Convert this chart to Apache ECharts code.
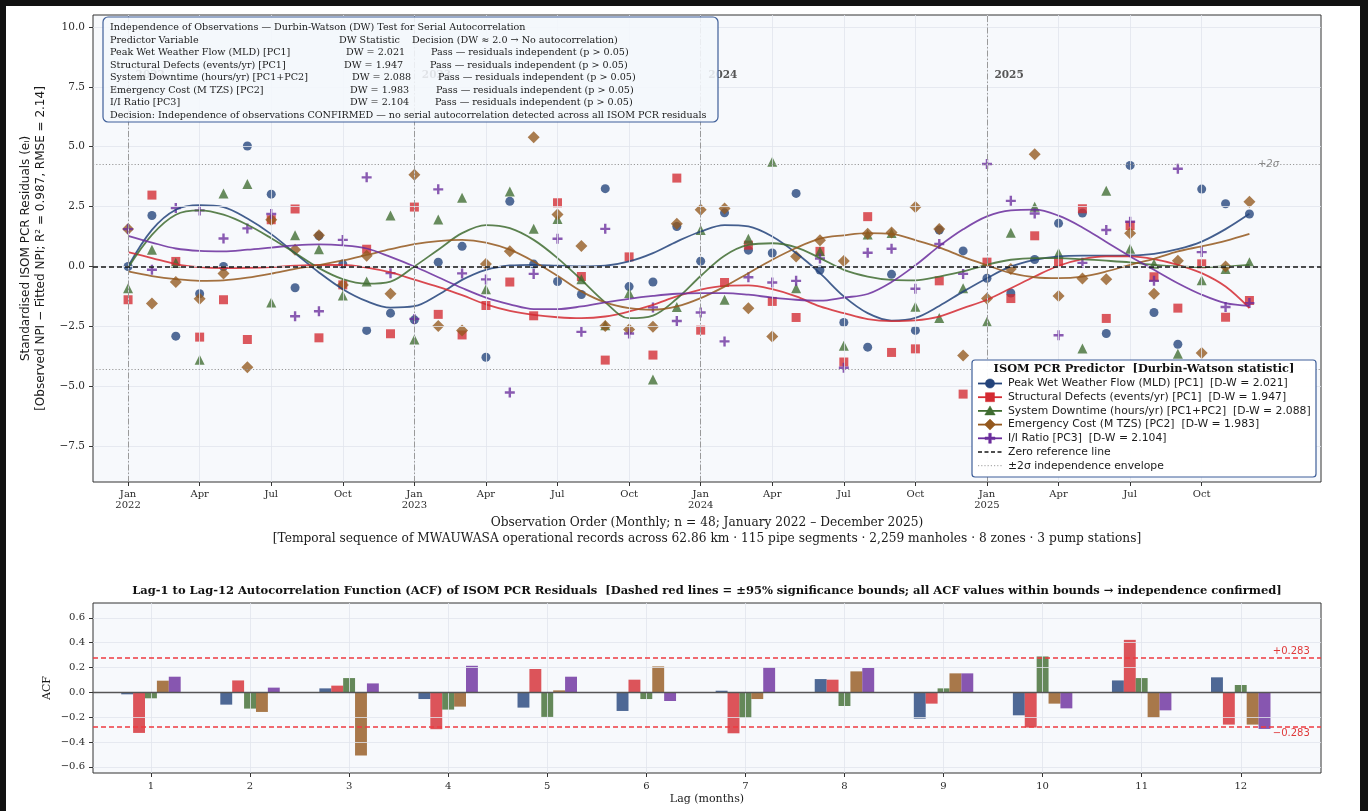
<!DOCTYPE html>
<html>
<head>
<meta charset="utf-8">
<title>ISOM PCR Residuals – Durbin-Watson Independence Check</title>
<script src="https://cdn.jsdelivr.net/npm/echarts@6/dist/echarts.min.js"></script>
<style>
  html, body { margin: 0; padding: 0; background: #fff; }
  #chart { position: absolute; left: 0; top: 0; width: 1368px; height: 811px; }
  .edge { position: absolute; background: #111; pointer-events: none; }
</style>
</head>
<body>
<div id="chart"></div>
<div class="edge" style="left:0;top:0;width:1368px;height:6px"></div>
<div class="edge" style="left:0;top:0;width:6px;height:811px"></div>
<div class="edge" style="left:1360px;top:0;width:8px;height:811px"></div>
<script>
// ---------------- data ----------------
const YEARS = [2022, 2023, 2024, 2025];
const MONTH_NAMES = ['Jan','Feb','Mar','Apr','May','Jun','Jul','Aug','Sep','Oct','Nov','Dec'];
const X_TICK_MONTHS = [0, 3, 6, 9, 12, 15, 18, 21, 24, 27, 30, 33, 36, 39, 42, 45];
const YEAR_START_MONTHS = [0, 12, 24, 36];
const Y_TICKS_RESID = [-7.5, -5, -2.5, 0, 2.5, 5, 7.5, 10];
const Y_TICKS_ACF = [-0.6, -0.4, -0.2, 0, 0.2, 0.4, 0.6];
const LAGS = [1, 2, 3, 4, 5, 6, 7, 8, 9, 10, 11, 12];

const TWO_SIGMA = 4.28;      // 2 x RMSE
const ACF_BOUND = 0.283;     // 95% significance bound

// monthly standardised residuals, Jan 2022 .. Dec 2025
const peakFlow = [0.00, 2.13, -2.91, -1.14, 0.00, 5.03, 3.02, -0.89, 1.28, 0.10, -2.67, -1.95,
  -2.23, 0.18, 0.84, -3.79, 2.72, 0.10, -0.63, -1.17, 3.25, -0.84, -0.65, 1.67,
  0.22, 2.24, 0.68, 0.56, 3.05, -0.15, -2.34, -3.37, -0.33, -2.67, 1.52, 0.65,
  -0.49, -1.11, 0.29, 1.80, 2.23, -2.80, 4.22, -1.92, -3.25, 3.23, 2.62, 2.19];
const structDefects = [-1.39, 2.98, 0.21, -2.95, -1.39, -3.05, 1.95, 2.40, -2.98, -0.77, 0.72, -2.81,
  2.48, -2.00, -2.86, -1.63, -0.65, -2.06, 2.66, -0.42, -3.91, 0.40, -3.70, 3.69,
  -2.66, -0.67, 0.89, -1.46, -2.13, 0.63, -3.99, 2.08, -3.59, -3.44, -0.60, -5.33,
  0.18, -1.34, 1.28, 0.17, 2.41, -2.17, 1.71, -0.43, -1.74, 0.11, -2.12, -1.42];
const downtime = [-0.91, 0.70, 0.15, -3.90, 3.05, 3.44, -1.50, 1.30, 0.72, -1.21, -0.63, 2.13,
  -3.05, 1.96, 2.87, -0.95, 3.13, 1.57, 1.98, -0.53, -2.45, -1.11, -4.72, -1.69,
  1.52, -1.39, 1.16, 4.37, -0.91, 0.63, -3.31, 1.33, 1.40, -1.68, -2.15, -0.91,
  -2.31, 1.41, 2.49, 0.56, -3.43, 3.16, 0.74, 0.11, -3.64, -0.58, -0.11, 0.18];
const emergencyCost = [1.56, -1.55, -0.65, -1.35, -0.29, -4.21, 1.95, 0.70, 1.30, -0.77, 0.45, -1.14,
  3.83, -2.49, -2.67, 0.10, 0.63, 5.40, 2.17, 0.85, -2.49, -2.63, -2.52, 1.78,
  2.37, 2.42, -1.74, -2.92, 0.42, 1.09, 0.23, 1.37, 1.42, 2.48, 1.56, -3.72,
  -1.34, -0.11, 4.69, -1.23, -0.50, -0.53, 1.39, -1.14, 0.24, -3.61, 0.00, 2.70];
const iiRatio = [1.56, -0.14, 2.44, 2.34, 1.17, 1.59, 2.19, -2.08, -1.87, 1.11, 3.72, -0.28,
  -2.19, 3.22, -0.29, -0.54, -5.26, -0.31, 1.16, -2.73, 1.57, -2.80, -1.71, -2.28,
  -1.92, -3.13, -0.45, -0.67, -0.60, 0.33, -4.23, 0.57, 0.74, -0.93, 0.94, -0.31,
  4.28, 2.74, 2.21, -2.87, 0.15, 1.52, 1.87, -0.60, 4.08, 0.60, -1.69, -1.53];

// smoothed residual trends
const peakFlowTrend = [0.00, 1.53, 2.37, 2.56, 2.48, 2.00, 1.35, 0.55, -0.25, -0.95, -1.45, -1.72,
  -1.66, -1.18, -0.56, -0.14, 0.04, 0.07, 0.03, 0.00, 0.03, 0.21, 0.56, 1.04,
  1.46, 1.73, 1.67, 1.25, 0.56, -0.28, -1.25, -1.95, -2.26, -2.15, -1.65, -1.05,
  -0.49, 0.00, 0.28, 0.42, 0.45, 0.45, 0.46, 0.53, 0.72, 1.04, 1.56, 2.20];
const structDefectsTrend = [0.60, 0.35, 0.10, -0.03, -0.07, -0.06, -0.03, 0.03, 0.06, 0.06, -0.05, -0.25,
  -0.55, -0.85, -1.20, -1.58, -1.85, -2.02, -2.12, -2.16, -2.09, -1.88, -1.60, -1.25,
  -0.97, -0.81, -0.79, -0.95, -1.25, -1.67, -1.95, -2.20, -2.28, -2.25, -2.09, -1.74,
  -1.39, -0.91, -0.42, 0.03, 0.31, 0.42, 0.42, 0.31, 0.07, -0.28, -0.84, -1.74];
const downtimeTrend = [-0.05, 1.32, 2.16, 2.34, 2.16, 1.74, 1.18, 0.56, -0.07, -0.53, -0.72, -0.63,
  0.00, 0.70, 1.39, 1.73, 1.60, 1.11, 0.35, -0.56, -1.50, -2.16, -2.05, -1.35,
  -0.40, 0.45, 0.90, 0.97, 0.80, 0.35, -0.14, -0.42, -0.56, -0.58, -0.42, -0.21,
  0.07, 0.28, 0.35, 0.35, 0.30, 0.24, 0.17, 0.07, 0.00, -0.03, 0.00, 0.07];
const emergencyCostTrend = [-0.21, -0.40, -0.53, -0.60, -0.58, -0.47, -0.30, -0.10, 0.06, 0.25, 0.48, 0.72,
  0.93, 1.06, 1.11, 1.00, 0.70, 0.21, -0.39, -1.04, -1.50, -1.74, -1.81, -1.67,
  -1.32, -0.84, -0.28, 0.28, 0.77, 1.16, 1.30, 1.39, 1.36, 1.10, 0.80, 0.40,
  0.05, -0.28, -0.45, -0.49, -0.42, -0.21, 0.07, 0.32, 0.63, 0.84, 1.07, 1.36];
const iiRatioTrend = [1.28, 1.00, 0.75, 0.65, 0.63, 0.70, 0.79, 0.88, 0.92, 0.88, 0.75, 0.40,
  0.00, -0.45, -0.90, -1.30, -1.58, -1.78, -1.78, -1.67, -1.50, -1.35, -1.23, -1.14,
  -1.11, -1.11, -1.18, -1.30, -1.39, -1.43, -1.30, -1.15, -0.65, 0.05, 0.85, 1.55,
  2.09, 2.34, 2.37, 2.12, 1.63, 1.02, 0.42, -0.14, -0.70, -1.18, -1.53, -1.64];

// autocorrelation at lags 1..12
const acfPeakFlow = [-0.016, -0.099, 0.032, -0.054, -0.123, -0.150, 0.013, 0.107, -0.212, -0.185, 0.096, 0.121];
const acfStructDefects = [-0.327, 0.096, 0.054, -0.297, 0.188, 0.102, -0.330, 0.102, -0.091, -0.284, 0.423, -0.260];
const acfDowntime = [-0.048, -0.131, 0.115, -0.139, -0.198, -0.054, -0.206, -0.110, 0.032, 0.289, 0.115, 0.059];
const acfEmergencyCost = [0.094, -0.158, -0.509, -0.115, 0.016, 0.209, -0.054, 0.169, 0.153, -0.091, -0.204, -0.260];
const acfIIRatio = [0.126, 0.038, 0.072, 0.214, 0.126, -0.070, 0.201, 0.196, 0.153, -0.129, -0.145, -0.295];

const PREDICTOR_NAMES = [
  'Peak Wet Weather Flow (MLD) [PC1]',
  'Structural Defects (events/yr) [PC1]',
  'System Downtime (hours/yr) [PC1+PC2]',
  'Emergency Cost (M TZS) [PC2]',
  'I/I Ratio [PC3]'
];
const DW_VALUES = ['2.021', '1.947', '2.088', '1.983', '2.104'];

// ---------------- styling ----------------
const SERIF = '"DejaVu Serif", serif';
const SANS = '"DejaVu Sans", sans-serif';
const PLUS_PATH = 'path://M3.8,0h2.4v3.8h3.8v2.4h-3.8v3.8h-2.4v-3.8h-3.8v-2.4h3.8z';
const BOUND_RED = '#ee3a40';

const STYLE = [
  { color: '#23437a', symbol: 'circle', size: 9 },
  { color: '#d42a31', symbol: 'rect', size: 9 },
  { color: '#3f6c30', symbol: 'triangle', size: 10 },
  { color: '#94581d', symbol: 'diamond', size: 12 },
  { color: '#6a2d9c', symbol: PLUS_PATH, size: 10 }
];
const POINTS = [peakFlow, structDefects, downtime, emergencyCost, iiRatio];
const TRENDS = [peakFlowTrend, structDefectsTrend, downtimeTrend, emergencyCostTrend, iiRatioTrend];
const ACFS = [acfPeakFlow, acfStructDefects, acfDowntime, acfEmergencyCost, acfIIRatio];
const BAR_OFFSETS = [-0.24, -0.12, 0, 0.12, 0.24];

const fmtNum = (v, d) => (v < 0 ? '\u2212' : '') + Math.abs(v).toFixed(d);
const monthLabel = (m) => {
  const mo = Math.round(m) % 12;
  return mo === 0 ? MONTH_NAMES[mo] + '\n' + YEARS[Math.round(m) / 12] : MONTH_NAMES[mo];
};

// ---------------- series ----------------
const series = [];

const GRID_LINE = { color: '#e1e5ec', width: 0.8, type: 'solid' };
const refLines = [];
X_TICK_MONTHS.forEach(m => refLines.push({ xAxis: m, lineStyle: GRID_LINE }));
Y_TICKS_RESID.forEach(v => refLines.push({ yAxis: v, lineStyle: GRID_LINE }));
YEAR_START_MONTHS.forEach(m => refLines.push({ xAxis: m, lineStyle: { color: '#9a9a9a', width: 1, type: [6, 2, 1.5, 2] } }));
refLines.push({ yAxis: TWO_SIGMA, lineStyle: { color: '#9a9a9a', width: 1, type: [1.2, 2] } });
refLines.push({ yAxis: -TWO_SIGMA, lineStyle: { color: '#9a9a9a', width: 1, type: [1.2, 2] } });
refLines.push({ yAxis: 0, lineStyle: { color: '#151515', width: 1.6, type: [5, 3] } });

const yearTags = YEAR_START_MONTHS.map((m, i) => ({
  coord: [m, 8.0],
  label: { formatter: String(YEARS[i]) }
}));

series.push({
  type: 'line', xAxisIndex: 0, yAxisIndex: 0, z: 1, data: [], silent: true,
  markLine: {
    silent: true, animation: false, symbol: ['none', 'none'],
    label: { show: false }, data: refLines
  },
  markPoint: {
    silent: true, animation: false, symbol: 'circle', symbolSize: 1,
    itemStyle: { color: 'rgba(0,0,0,0)' },
    label: { show: true, position: 'right', distance: 7, color: '#555', fontFamily: SERIF, fontWeight: 'bold', fontSize: 10.5 },
    data: yearTags.concat([
      { coord: [47.8, TWO_SIGMA], label: { formatter: '+2\u03c3', position: 'inside', fontWeight: 'normal', fontStyle: 'italic', color: '#8a8a8a', fontFamily: SANS, fontSize: 10 } },
      { coord: [47.8, -TWO_SIGMA], label: { formatter: '\u22122\u03c3', position: 'inside', fontWeight: 'normal', fontStyle: 'italic', color: '#8a8a8a', fontFamily: SANS, fontSize: 10 } }
    ])
  }
});

PREDICTOR_NAMES.forEach((name, k) => {
  series.push({
    type: 'scatter', name, xAxisIndex: 0, yAxisIndex: 0, z: 3,
    symbol: STYLE[k].symbol, symbolSize: STYLE[k].size,
    itemStyle: { color: STYLE[k].color, opacity: 0.78 },
    data: POINTS[k].map((v, i) => [i, v])
  });
});
PREDICTOR_NAMES.forEach((name, k) => {
  series.push({
    type: 'line', name: name + ' trend', xAxisIndex: 0, yAxisIndex: 0, z: 4,
    smooth: 0.35, symbol: 'none', showSymbol: false,
    lineStyle: { color: STYLE[k].color, width: 1.8, opacity: 0.85 },
    data: TRENDS[k].map((v, i) => [i, v])
  });
});

// ACF panel
const acfGrid = [];
LAGS.forEach(l => acfGrid.push({ xAxis: l, lineStyle: GRID_LINE }));
Y_TICKS_ACF.forEach(v => acfGrid.push({ yAxis: v, lineStyle: GRID_LINE }));
series.push({
  type: 'line', xAxisIndex: 1, yAxisIndex: 1, z: 1, data: [], silent: true,
  markLine: { silent: true, animation: false, symbol: ['none', 'none'], label: { show: false }, data: acfGrid }
});
PREDICTOR_NAMES.forEach((name, k) => {
  series.push({
    type: 'bar', name: name + ' ACF', xAxisIndex: 1, yAxisIndex: 1, z: 3,
    barWidth: 11.9, barGap: '-100%',
    itemStyle: { color: STYLE[k].color, opacity: 0.8 },
    data: LAGS.map((l, i) => [l + BAR_OFFSETS[k], ACFS[k][i]])
  });
});
// zero line of the ACF panel
series.push({
  type: 'line', xAxisIndex: 1, yAxisIndex: 1, z: 5, data: [], silent: true,
  markLine: {
    silent: true, animation: false, symbol: ['none', 'none'], label: { show: false },
    lineStyle: { color: '#555', width: 1.4, type: 'solid' },
    data: [{ yAxis: 0 }]
  }
});
// +/- 95% significance bounds
series.push({
  type: 'line', xAxisIndex: 1, yAxisIndex: 1, z: 5, data: [], silent: true,
  color: BOUND_RED,
  markLine: {
    silent: true, animation: false, symbol: ['none', 'none'], label: { show: false },
    lineStyle: { color: BOUND_RED, width: 1.6, type: [5, 3], opacity: 1 },
    data: [{ yAxis: ACF_BOUND }, { yAxis: -ACF_BOUND }]
  },
  markPoint: {
    silent: true, animation: false, symbol: 'circle', symbolSize: 1,
    itemStyle: { color: 'rgba(0,0,0,0)' },
    label: { show: true, position: 'inside', color: '#e03a3a', fontFamily: SANS, fontSize: 10 },
    data: [
      { coord: [12.51, ACF_BOUND], label: { formatter: '+' + ACF_BOUND.toFixed(3), offset: [0, -6] } },
      { coord: [12.51, -ACF_BOUND], label: { formatter: '\u2212' + ACF_BOUND.toFixed(3), offset: [0, 6] } }
    ]
  }
});

// ---------------- annotation + legend boxes ----------------
const graphics = [];
const txt = (x, y, text, opts) => Object.assign({
  type: 'text', x, y, z: 102,
  style: Object.assign({
    text, fill: '#1a1a1a', fontFamily: SERIF, fontSize: 9.6,
    align: 'left', textAlign: 'left', verticalAlign: 'middle', textVerticalAlign: 'middle'
  }, opts || {})
});

// Durbin-Watson summary table
graphics.push({ type: 'rect', z: 100, shape: { x: 103, y: 17, width: 615, height: 105, r: 5 },
  style: { fill: 'rgba(244,247,252,0.88)', stroke: '#3f5f99', lineWidth: 1.2 } });
const ROW0 = 27.5, ROWH = 12.5;
graphics.push(txt(110, ROW0, 'Independence of Observations \u2014 Durbin-Watson (DW) Test for Serial Autocorrelation'));
graphics.push(txt(110, ROW0 + ROWH, 'Predictor Variable'));
graphics.push(txt(339, ROW0 + ROWH, 'DW Statistic'));
graphics.push(txt(412, ROW0 + ROWH, 'Decision (DW \u2248 2.0 \u2192 No autocorrelation)'));
const DW_COL = [346, 344, 352, 350, 350];
const PASS_COL = [431, 430, 438, 436, 435];
PREDICTOR_NAMES.forEach((name, k) => {
  const y = ROW0 + ROWH * (k + 2);
  graphics.push(txt(110, y, name));
  graphics.push(txt(DW_COL[k], y, 'DW = ' + DW_VALUES[k]));
  graphics.push(txt(PASS_COL[k], y, 'Pass \u2014 residuals independent (p > 0.05)'));
});
graphics.push(txt(110, ROW0 + ROWH * 7, 'Decision: Independence of observations CONFIRMED \u2014 no serial autocorrelation detected across all ISOM PCR residuals'));

// legend
graphics.push({ type: 'rect', z: 100, shape: { x: 972, y: 360, width: 344, height: 117, r: 3 },
  style: { fill: 'rgba(255,255,255,0.96)', stroke: '#3f5f99', lineWidth: 1.2 } });
graphics.push(txt(1144, 369.5, 'ISOM PCR Predictor  [Durbin-Watson statistic]',
  { align: 'center', textAlign: 'center', fontWeight: 'bold', fontSize: 11.4, fill: '#111' }));
const LEG_Y0 = 383.5, LEG_DY = 13.7, LEG_X = 978, LEG_W = 24, LEG_FONT = 10.8;
const legMarker = (k, cx, cy) => {
  const c = STYLE[k].color;
  const st = { fill: c, stroke: c, lineWidth: 0.5 };
  if (k === 0) return { type: 'circle', z: 102, shape: { cx, cy, r: 4.6 }, style: st };
  if (k === 1) return { type: 'rect', z: 102, shape: { x: cx - 4.5, y: cy - 4.5, width: 9, height: 9 }, style: st };
  if (k === 2) return { type: 'polygon', z: 102, shape: { points: [[cx, cy - 5], [cx + 5.2, cy + 4], [cx - 5.2, cy + 4]] }, style: st };
  if (k === 3) return { type: 'polygon', z: 102, shape: { points: [[cx, cy - 5.5], [cx + 5.5, cy], [cx, cy + 5.5], [cx - 5.5, cy]] }, style: st };
  const a = 1.3, b = 5;
  return { type: 'polygon', z: 102, shape: { points: [
    [cx - a, cy - b], [cx + a, cy - b], [cx + a, cy - a], [cx + b, cy - a], [cx + b, cy + a], [cx + a, cy + a],
    [cx + a, cy + b], [cx - a, cy + b], [cx - a, cy + a], [cx - b, cy + a], [cx - b, cy - a], [cx - a, cy - a]] }, style: st };
};
PREDICTOR_NAMES.forEach((name, k) => {
  const y = LEG_Y0 + LEG_DY * k;
  graphics.push({ type: 'line', z: 101, shape: { x1: LEG_X, y1: y, x2: LEG_X + LEG_W, y2: y },
    style: { stroke: STYLE[k].color, lineWidth: 1.8 } });
  graphics.push(legMarker(k, LEG_X + LEG_W / 2, y));
  graphics.push(txt(1008, y, name + '  [D-W = ' + DW_VALUES[k] + ']', { fontFamily: SANS, fontSize: LEG_FONT }));
});
{
  const y5 = LEG_Y0 + LEG_DY * 5, y6 = LEG_Y0 + LEG_DY * 6;
  graphics.push({ type: 'line', z: 101, shape: { x1: LEG_X, y1: y5, x2: LEG_X + LEG_W, y2: y5 },
    style: { stroke: '#151515', lineWidth: 1.5, lineDash: [4, 2.5] } });
  graphics.push(txt(1008, y5, 'Zero reference line', { fontFamily: SANS, fontSize: LEG_FONT }));
  graphics.push({ type: 'line', z: 101, shape: { x1: LEG_X, y1: y6, x2: LEG_X + LEG_W, y2: y6 },
    style: { stroke: '#9a9a9a', lineWidth: 1, lineDash: [1.2, 2] } });
  graphics.push(txt(1008, y6, '\u00b12\u03c3 independence envelope', { fontFamily: SANS, fontSize: LEG_FONT }));
}

// ACF panel title
graphics.push(txt(707, 591, 'Lag-1 to Lag-12 Autocorrelation Function (ACF) of ISOM PCR Residuals  [Dashed red lines = \u00b195% significance bounds; all ACF values within bounds \u2192 independence confirmed]',
  { align: 'center', textAlign: 'center', fontWeight: 'bold', fontSize: 11.5, fill: '#111' }));

// ---------------- axes ----------------
const tickStyle = { show: true, length: 4, lineStyle: { color: '#333', width: 1 } };
const labelBase = { color: '#2a2a2a', fontFamily: SERIF, fontSize: 10 };

const option = {
  animation: false,
  backgroundColor: '#ffffff',
  grid: [
    { left: 93, top: 15, width: 1228, height: 467, show: true, backgroundColor: '#f7f9fc',
      borderColor: '#333', borderWidth: 1, containLabel: false, outerBoundsMode: 'none' },
    { left: 93, top: 603, width: 1228, height: 170, show: true, backgroundColor: '#f7f9fc',
      borderColor: '#333', borderWidth: 1, containLabel: false, outerBoundsMode: 'none' }
  ],
  xAxis: [
    { type: 'value', gridIndex: 0, min: -1.47, max: 50,
      axisLine: { show: false, onZero: false },
      axisTick: Object.assign({ customValues: X_TICK_MONTHS }, tickStyle),
      axisLabel: Object.assign({ customValues: X_TICK_MONTHS, formatter: monthLabel, lineHeight: 11, margin: 7 }, labelBase),
      splitLine: { show: false },
      name: 'Observation Order (Monthly; n = 48; January 2022 \u2013 December 2025)\n[Temporal sequence of MWAUWASA operational records across 62.86 km \u00b7 115 pipe segments \u00b7 2,259 manholes \u00b7 8 zones \u00b7 3 pump stations]',
      nameLocation: 'middle', nameGap: 33.5, nameMoveOverlap: false,
      nameTextStyle: { fontFamily: SERIF, fontSize: 12.2, color: '#1a1a1a', lineHeight: 15.5 } },
    { type: 'value', gridIndex: 1, min: 0.415, max: 12.81,
      axisLine: { show: false, onZero: false },
      axisTick: Object.assign({ customValues: LAGS }, tickStyle),
      axisLabel: Object.assign({ customValues: LAGS, formatter: v => String(Math.round(v)), margin: 8 }, labelBase),
      splitLine: { show: false },
      name: 'Lag (months)', nameLocation: 'middle', nameGap: 21, nameMoveOverlap: false,
      nameTextStyle: { fontFamily: SERIF, fontSize: 11, color: '#1a1a1a' } }
  ],
  yAxis: [
    { type: 'value', gridIndex: 0, min: -9.0, max: 10.5,
      axisLine: { show: false, onZero: false },
      axisTick: Object.assign({ customValues: Y_TICKS_RESID }, tickStyle),
      axisLabel: Object.assign({ customValues: Y_TICKS_RESID, formatter: v => fmtNum(v, 1), margin: 8 }, labelBase, { fontSize: 10.5 }),
      splitLine: { show: false },
      name: 'Standardised ISOM PCR Residuals (e\u1d62)\n[Observed NPI \u2212 Fitted NPI; R\u00b2 = 0.987, RMSE = 2.14]',
      nameLocation: 'middle', nameRotate: 90, nameGap: 44, nameMoveOverlap: false,
      nameTextStyle: { fontFamily: SANS, fontSize: 12, color: '#1a1a1a', lineHeight: 15.7 } },
    { type: 'value', gridIndex: 1, min: -0.65, max: 0.72,
      axisLine: { show: false, onZero: false },
      axisTick: Object.assign({ customValues: Y_TICKS_ACF }, tickStyle),
      axisLabel: Object.assign({ customValues: Y_TICKS_ACF, formatter: v => fmtNum(v, 1), margin: 8 }, labelBase),
      splitLine: { show: false },
      name: 'ACF', nameLocation: 'middle', nameRotate: 90, nameGap: 40, nameMoveOverlap: false,
      nameTextStyle: { fontFamily: SERIF, fontSize: 11, color: '#1a1a1a' } }
  ],
  graphic: { elements: graphics },
  series
};

const chart = echarts.init(document.getElementById('chart'), null, { renderer: 'canvas' });
chart.setOption(option);
</script>
</body>
</html>
